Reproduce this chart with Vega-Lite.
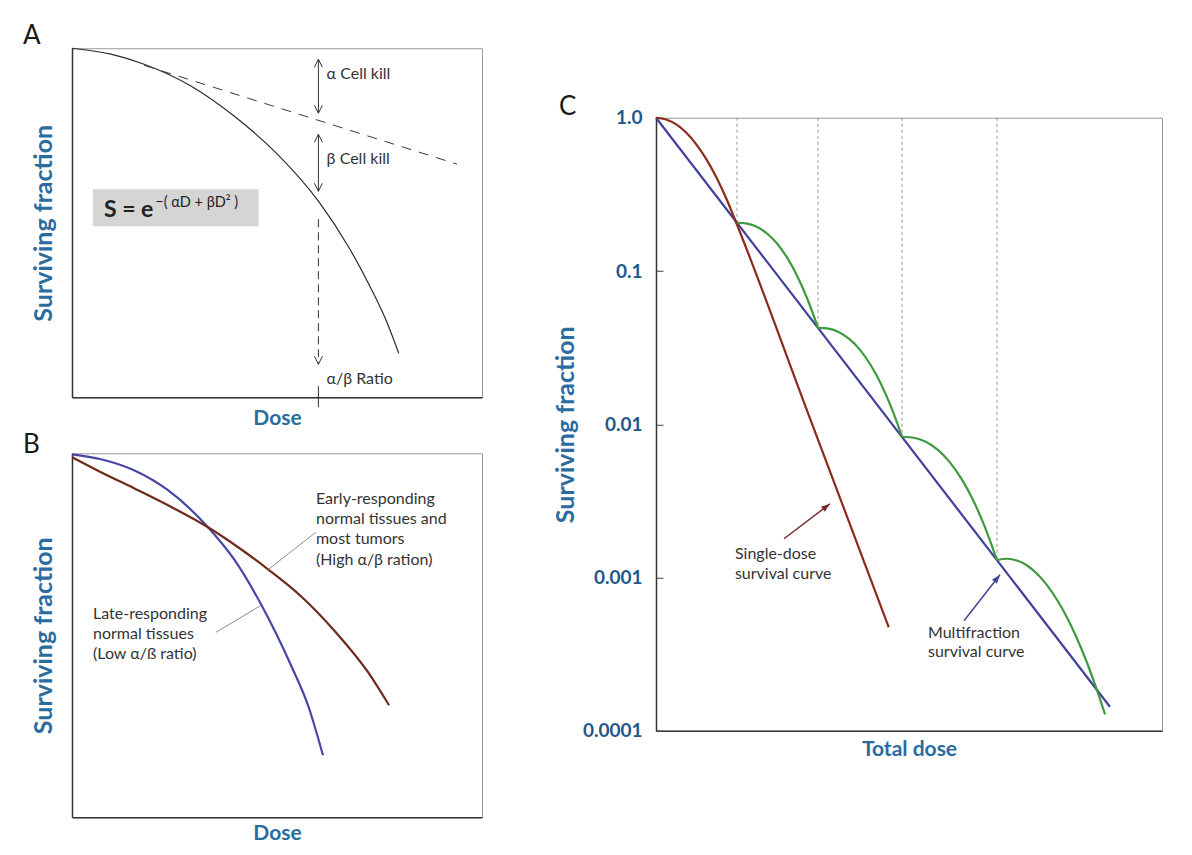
{
  "$schema": "https://vega.github.io/schema/vega-lite/v6.json",
  "padding": {"left": 22, "top": 22, "right": 5, "bottom": 5},
  "background": "white",
  "datasets": {
    "aBox": [{"x": 5.1, "x2": 45.5, "y": 49.0, "y2": 59.6}],
    "aCurve": [
      {"x": 0, "y": 100}, {"x": 9.5, "y": 98.3}, {"x": 17.6, "y": 95.4}, {"x": 29.1, "y": 89.1},
      {"x": 39.6, "y": 80.5}, {"x": 49.9, "y": 69.9}, {"x": 60.1, "y": 56.2}, {"x": 67.5, "y": 43.0},
      {"x": 72.4, "y": 32.4}, {"x": 76.3, "y": 22.9}, {"x": 79.7, "y": 12.6}
    ],
    "aDash": [{"x": 17.6, "y": 95.1}, {"x": 93.9, "y": 66.8}],
    "aArrows": [
      {"x": 60.1, "y": 96.85, "y2": 81.38},
      {"x": 60.1, "y": 75.36, "y2": 59.03},
      {"x": 60.1, "y": 3.15, "y2": -2.87}
    ],
    "aDashV": [{"x": 60.1, "y": 51.0, "y2": 9.46}],
    "aHeads": [
      {"x": 60.1, "y": 96.85, "dir": "up"}, {"x": 60.1, "y": 81.38, "dir": "down"},
      {"x": 60.1, "y": 75.36, "dir": "up"}, {"x": 60.1, "y": 59.03, "dir": "down"},
      {"x": 60.1, "y": 9.46, "dir": "down"}
    ],
    "aText": [
      {"x": 62.1, "y": 92.55, "t": "α Cell kill"},
      {"x": 62.1, "y": 68.2, "t": "β Cell kill"},
      {"x": 62.1, "y": 5.16, "t": "α/β Ratio"}
    ],
    "aF1": [{"x": 7.8, "y": 51.6, "t": "S = e"}],
    "aF2": [{"x": 20.3, "y": 54.4, "t": "−( αD + βD² )"}],
    "bBlue": [
      {"x": 0, "y": 99.7}, {"x": 7.07, "y": 98.35}, {"x": 15.12, "y": 95.33}, {"x": 23.41, "y": 89.84},
      {"x": 33.17, "y": 79.67}, {"x": 39.51, "y": 70.88}, {"x": 46.1, "y": 58.52}, {"x": 53.41, "y": 41.76},
      {"x": 57.56, "y": 30.77}, {"x": 61.22, "y": 17.03}
    ],
    "bRed": [
      {"x": 0, "y": 98.9}, {"x": 7.07, "y": 94.78}, {"x": 15.12, "y": 90.38}, {"x": 23.41, "y": 85.71},
      {"x": 33.17, "y": 79.67}, {"x": 41.22, "y": 73.63}, {"x": 47.8, "y": 68.13}, {"x": 55.85, "y": 60.71},
      {"x": 63.9, "y": 51.37}, {"x": 72.2, "y": 39.84}, {"x": 77.32, "y": 30.77}
    ],
    "bLeaders": [
      {"x": 47.8, "y": 68.0, "x2": 59.5, "y2": 78.3},
      {"x": 35.1, "y": 50.8, "x2": 46.1, "y2": 58.2}
    ],
    "bText": [
      {"x": 59.5, "y": 87.36, "t": "Early-responding"},
      {"x": 59.5, "y": 81.87, "t": "normal tissues and"},
      {"x": 59.5, "y": 76.37, "t": "most tumors"},
      {"x": 59.5, "y": 70.6, "t": "(High α/β ration)"},
      {"x": 5.12, "y": 55.77, "t": "Late-responding"},
      {"x": 5.12, "y": 50.27, "t": "normal tissues"},
      {"x": 5.12, "y": 44.78, "t": "(Low α/ß ratio)"}
    ],
    "cDash": [
      {"x": 16, "y": 1, "y2": 0.2064},
      {"x": 32.02, "y": 1, "y2": 0.0426},
      {"x": 48.62, "y": 1, "y2": 0.00829},
      {"x": 67.39, "y": 1, "y2": 0.001298}
    ],
    "cBlue": [{"x": 0, "y": 1}, {"x": 89.7, "y": 0.0001434}],
    "cRed": [
      {"x": 0, "y": 1}, {"x": 2, "y": 0.9752}, {"x": 4, "y": 0.9043}, {"x": 6, "y": 0.7975},
      {"x": 8, "y": 0.6686}, {"x": 10, "y": 0.5333}, {"x": 12, "y": 0.4045}, {"x": 14, "y": 0.2916},
      {"x": 15.6, "y": 0.2167}, {"x": 30, "y": 0.01191}, {"x": 46, "y": 0.0004735}
    ],
    "cGreen": [
      {"arc": 1, "x": 16, "y": 0.2064}, {"arc": 1, "x": 18, "y": 0.2037}, {"arc": 1, "x": 20, "y": 0.1935},
      {"arc": 1, "x": 22, "y": 0.175}, {"arc": 1, "x": 24, "y": 0.1499}, {"arc": 1, "x": 26, "y": 0.1209},
      {"arc": 1, "x": 28, "y": 0.0915}, {"arc": 1, "x": 30, "y": 0.0647}, {"arc": 1, "x": 32.02, "y": 0.0426},
      {"arc": 2, "x": 32.02, "y": 0.0426}, {"arc": 2, "x": 34.09, "y": 0.04205}, {"arc": 2, "x": 36.17, "y": 0.03985},
      {"arc": 2, "x": 38.24, "y": 0.03592}, {"arc": 2, "x": 40.32, "y": 0.03058}, {"arc": 2, "x": 42.39, "y": 0.02445},
      {"arc": 2, "x": 44.47, "y": 0.01832}, {"arc": 2, "x": 46.54, "y": 0.01278}, {"arc": 2, "x": 48.62, "y": 0.00829},
      {"arc": 3, "x": 48.62, "y": 0.00829}, {"arc": 3, "x": 50.97, "y": 0.008163}, {"arc": 3, "x": 53.31, "y": 0.007677},
      {"arc": 3, "x": 55.65, "y": 0.006828}, {"arc": 3, "x": 58.0, "y": 0.005684}, {"arc": 3, "x": 60.35, "y": 0.004416},
      {"arc": 3, "x": 62.7, "y": 0.003183}, {"arc": 3, "x": 65.04, "y": 0.002118}, {"arc": 3, "x": 67.39, "y": 0.001298},
      {"arc": 4, "x": 67.39, "y": 0.001298}, {"arc": 4, "x": 69.37, "y": 0.001325}, {"arc": 4, "x": 71.34, "y": 0.00129},
      {"arc": 4, "x": 73.32, "y": 0.001197}, {"arc": 4, "x": 75.3, "y": 0.001058}, {"arc": 4, "x": 77.27, "y": 0.0008914},
      {"arc": 4, "x": 79.25, "y": 0.0007157}, {"arc": 4, "x": 81.23, "y": 0.0005479}, {"arc": 4, "x": 83.2, "y": 0.0003997},
      {"arc": 4, "x": 85.18, "y": 0.0002778}, {"arc": 4, "x": 87.15, "y": 0.000184}, {"arc": 4, "x": 88.74, "y": 0.0001279}
    ],
    "cArrowSingle": [{"x": 25.3, "y": 0.00179, "x2": 34.39, "y2": 0.003029}],
    "cHeadSingle": [{"x": 34.39, "y": 0.003029}],
    "cArrowMulti": [{"x": 60.87, "y": 0.000522, "x2": 67.98, "y2": 0.001042}],
    "cHeadMulti": [{"x": 67.98, "y": 0.001042}],
    "cText": [
      {"x": 15.6, "y": 0.001429, "t": "Single-dose"},
      {"x": 15.6, "y": 0.001058, "t": "survival curve"},
      {"x": 53.75, "y": 0.000436, "t": "Multifraction"},
      {"x": 53.75, "y": 0.000328, "t": "survival curve"}
    ]
  },
  "hconcat": [
    {
      "vconcat": [
        {
          "width": 410,
          "height": 349,
          "title": {"text": "A", "anchor": "start", "frame": "group", "dx": -49, "offset": -3.5, "fontSize": 26, "fontWeight": "normal", "font": "Lato", "color": "#1a1a1a"},
          "encoding": {
            "x": {"field": "x", "type": "quantitative", "scale": {"domain": [0, 100], "nice": false}, "axis": {"title": "Dose", "labels": false, "ticks": false, "titlePadding": 10}},
            "y": {"field": "y", "type": "quantitative", "scale": {"domain": [0, 100], "nice": false}, "axis": {"title": "Surviving fraction", "labels": false, "ticks": false, "titlePadding": 16}}
          },
          "layer": [
            {"data": {"name": "aBox"}, "mark": {"type": "rect", "fill": "#d5d5d5"}, "encoding": {"x2": {"field": "x2"}, "y2": {"field": "y2"}}},
            {"data": {"name": "aCurve"}, "mark": {"type": "line", "interpolate": "monotone", "color": "#2b2b2b", "strokeWidth": 1.2}},
            {"data": {"name": "aDash"}, "mark": {"type": "line", "color": "#3a3a3a", "strokeWidth": 1, "strokeDash": [10, 8]}},
            {"data": {"name": "aArrows"}, "mark": {"type": "rule", "color": "#333", "strokeWidth": 1}, "encoding": {"y2": {"field": "y2"}}},
            {"data": {"name": "aDashV"}, "mark": {"type": "rule", "color": "#333", "strokeWidth": 1, "strokeDash": [8, 5]}, "encoding": {"y2": {"field": "y2"}}},
            {"data": {"name": "aHeads"}, "mark": {"type": "point", "filled": false, "color": "#333", "strokeWidth": 1, "size": 64, "opacity": 1},
             "encoding": {"shape": {"field": "dir", "type": "nominal", "scale": {"domain": ["up", "down"], "range": ["M-1,2L0,0L1,2", "M-1,-2L0,0L1,-2"]}, "legend": null}}},
            {"data": {"name": "aText"}, "mark": {"type": "text", "align": "left", "baseline": "middle", "fontSize": 16, "color": "#333"}, "encoding": {"text": {"field": "t"}}},
            {"data": {"name": "aF1"}, "mark": {"type": "text", "align": "left", "baseline": "alphabetic", "fontSize": 23, "fontWeight": "bold", "color": "#222"}, "encoding": {"text": {"field": "t"}}},
            {"data": {"name": "aF2"}, "mark": {"type": "text", "align": "left", "baseline": "alphabetic", "fontSize": 14.5, "color": "#222"}, "encoding": {"text": {"field": "t"}}}
          ]
        },
        {
          "width": 410,
          "height": 364,
          "title": {"text": "B", "anchor": "start", "frame": "group", "dx": -49, "offset": -8.5, "fontSize": 26, "fontWeight": "normal", "font": "Lato", "color": "#1a1a1a"},
          "encoding": {
            "x": {"field": "x", "type": "quantitative", "scale": {"domain": [0, 100], "nice": false}, "axis": {"title": "Dose", "labels": false, "ticks": false, "titlePadding": 5}},
            "y": {"field": "y", "type": "quantitative", "scale": {"domain": [0, 100], "nice": false}, "axis": {"title": "Surviving fraction", "labels": false, "ticks": false, "titlePadding": 16}}
          },
          "layer": [
            {"data": {"name": "bBlue"}, "mark": {"type": "line", "interpolate": "monotone", "color": "#4646a6", "strokeWidth": 2.2}},
            {"data": {"name": "bRed"}, "mark": {"type": "line", "interpolate": "monotone", "color": "#6e2a1c", "strokeWidth": 2.2}},
            {"data": {"name": "bLeaders"}, "mark": {"type": "rule", "color": "#8c8c8c", "strokeWidth": 1}, "encoding": {"x2": {"field": "x2"}, "y2": {"field": "y2"}}},
            {"data": {"name": "bText"}, "mark": {"type": "text", "align": "left", "baseline": "middle", "fontSize": 16, "color": "#333"}, "encoding": {"text": {"field": "t"}}}
          ]
        }
      ],
      "spacing": 2
    },
    {
      "width": 506,
      "height": 613,
      "title": {"text": "C", "anchor": "start", "frame": "group", "dx": -97, "offset": -11, "fontSize": 26, "fontWeight": "normal", "font": "Lato", "color": "#1a1a1a"},
      "encoding": {
        "x": {"field": "x", "type": "quantitative", "scale": {"domain": [0, 100], "nice": false}, "axis": {"title": ["Total dose", ""], "titleLineHeight": 14, "labels": false, "ticks": false, "titlePadding": 8}},
        "y": {"field": "y", "type": "quantitative", "scale": {"type": "log", "domain": [0.0001, 1], "nice": false},
          "axis": {"title": "Surviving fraction", "values": [1, 0.1, 0.01, 0.001, 0.0001],
            "labelExpr": "datum.value >= 0.9 ? '1.0' : datum.value >= 0.09 ? '0.1' : datum.value >= 0.009 ? '0.01' : datum.value >= 0.0009 ? '0.001' : '0.0001'",
            "tickSize": -7, "tickColor": "#444", "tickWidth": 1, "labelPadding": 21, "titlePadding": 4,
            "labelFontSize": 19, "labelFontWeight": "bold", "labelColor": "#22578a", "labelFont": "Lato"}}
      },
      "layer": [
        {"data": {"name": "cDash"}, "mark": {"type": "rule", "color": "#7a7a7a", "strokeWidth": 0.8, "strokeDash": [3, 3]}, "encoding": {"y2": {"field": "y2"}}},
        {"data": {"name": "cBlue"}, "mark": {"type": "line", "color": "#41419b", "strokeWidth": 2.2}},
        {"data": {"name": "cRed"}, "mark": {"type": "line", "interpolate": "monotone", "color": "#8a2b1b", "strokeWidth": 2.2}},
        {"data": {"name": "cGreen"}, "mark": {"type": "line", "interpolate": "monotone", "color": "#3f9a3f", "strokeWidth": 2.2}, "encoding": {"detail": {"field": "arc", "type": "nominal"}}},
        {"data": {"name": "cArrowSingle"}, "mark": {"type": "rule", "color": "#7b2b2b", "strokeWidth": 1.5}, "encoding": {"x2": {"field": "x2"}, "y2": {"field": "y2"}}},
        {"data": {"name": "cHeadSingle"}, "mark": {"type": "point", "shape": "M0,0L-0.6,1.7L0.6,1.7Z", "filled": true, "color": "#7b2b2b", "size": 110, "angle": 52.7, "opacity": 1}},
        {"data": {"name": "cArrowMulti"}, "mark": {"type": "rule", "color": "#454597", "strokeWidth": 1.5}, "encoding": {"x2": {"field": "x2"}, "y2": {"field": "y2"}}},
        {"data": {"name": "cHeadMulti"}, "mark": {"type": "point", "shape": "M0,0L-0.6,1.7L0.6,1.7Z", "filled": true, "color": "#454597", "size": 110, "angle": 38, "opacity": 1}},
        {"data": {"name": "cText"}, "mark": {"type": "text", "align": "left", "baseline": "middle", "fontSize": 16, "color": "#333"}, "encoding": {"text": {"field": "t"}}}
      ]
    }
  ],
  "spacing": 69,
  "center": true,
  "config": {
    "font": "Lato",
    "view": {"stroke": "#9a9a9a", "strokeWidth": 1},
    "axis": {"grid": false, "domainColor": "#333", "domainWidth": 1.5, "titleFont": "Lato", "titleFontWeight": "bold", "titleColor": "#2b6c9f"},
    "axisX": {"titleFontSize": 21},
    "axisY": {"titleFontSize": 25}
  }
}
